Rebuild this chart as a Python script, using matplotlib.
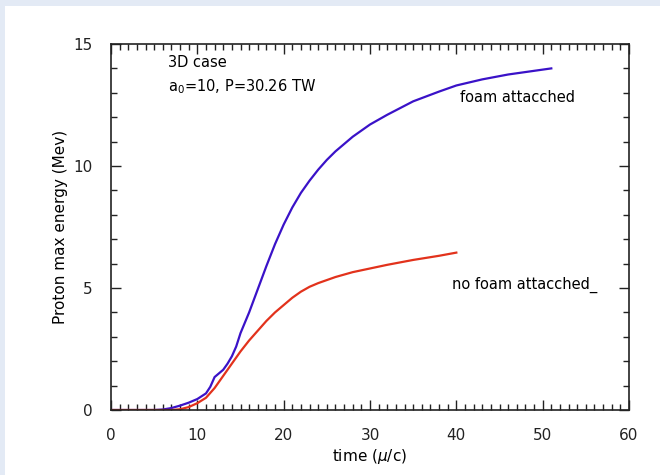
import matplotlib
matplotlib.use("Agg")
import matplotlib.pyplot as plt
from matplotlib.patches import Rectangle
from matplotlib.ticker import MultipleLocator

# foam attached (blue)
t_foam = [0, 5, 6, 7, 8, 9, 10, 11, 11.5, 12, 12.5, 13, 13.5, 14, 14.5, 15, 16, 17, 18, 19,
          20, 21, 22, 23, 24, 25, 26, 28, 30, 32, 35, 38, 40, 43, 46, 49, 51]
e_foam = [0, 0, 0.02, 0.08, 0.18, 0.3, 0.45, 0.68, 0.95, 1.35, 1.5, 1.65, 1.9, 2.2, 2.6, 3.15,
          4.0, 4.95, 5.9, 6.8, 7.6, 8.3, 8.9, 9.4, 9.85, 10.25, 10.6, 11.2, 11.7, 12.1, 12.65,
          13.05, 13.3, 13.55, 13.75, 13.9, 14.0]

# no foam (red)
t_nofoam = [0, 7, 8, 9, 10, 11, 12, 13, 14, 15, 16, 17, 18, 19, 20, 21, 22, 23, 24, 26, 28,
            30, 32, 35, 38, 40]
e_nofoam = [0, 0, 0.03, 0.12, 0.28, 0.5, 0.9, 1.4, 1.9, 2.4, 2.85, 3.25, 3.65, 4.0, 4.3, 4.6,
            4.85, 5.05, 5.2, 5.45, 5.65, 5.8, 5.95, 6.15, 6.32, 6.45]

fig = plt.figure(figsize=(6.6, 4.75), dpi=100)
fig.patch.set_facecolor("white")
border = "#e3eaf5"
fig.add_artist(Rectangle((0, 1 - 6 / 475), 1, 6 / 475, transform=fig.transFigure,
                         facecolor=border, edgecolor="none"))
fig.add_artist(Rectangle((0, 0), 5 / 660, 1, transform=fig.transFigure,
                         facecolor=border, edgecolor="none"))

ax = fig.add_axes([111 / 660, 65 / 475, 518 / 660, 366 / 475])
ax.plot(t_foam, e_foam, color="#3a12c8", lw=1.6)
ax.plot(t_nofoam, e_nofoam, color="#e2321c", lw=1.6)

ax.set_xlim(0, 60)
ax.set_ylim(0, 15)
ax.xaxis.set_major_locator(MultipleLocator(10))
ax.xaxis.set_minor_locator(MultipleLocator(1))
ax.yaxis.set_major_locator(MultipleLocator(5))
ax.yaxis.set_minor_locator(MultipleLocator(1))
ax.tick_params(which="both", direction="in", top=True, right=True, labelsize=11, width=1,
               colors="#222222")
ax.tick_params(which="major", length=7, pad=13)
ax.tick_params(which="minor", length=4)
for s in ax.spines.values():
    s.set_linewidth(1.2)
    s.set_color("#222222")

ax.set_xlabel("time ($\\mu$/c)", fontsize=11, labelpad=3)
ax.set_ylabel("Proton max energy (Mev)", fontsize=11, labelpad=4)

ax.text(6.6, 14.25, "3D case", fontsize=10.5, va="center")
ax.text(6.6, 13.25, "a$_0$=10, P=30.26 TW", fontsize=10.5, va="center")
ax.text(40.4, 12.8, "foam attacched", fontsize=10.5, va="center")
ax.text(39.5, 5.12, "no foam attacched_", fontsize=10.5, va="center")

fig.savefig("out.png", dpi=100)
